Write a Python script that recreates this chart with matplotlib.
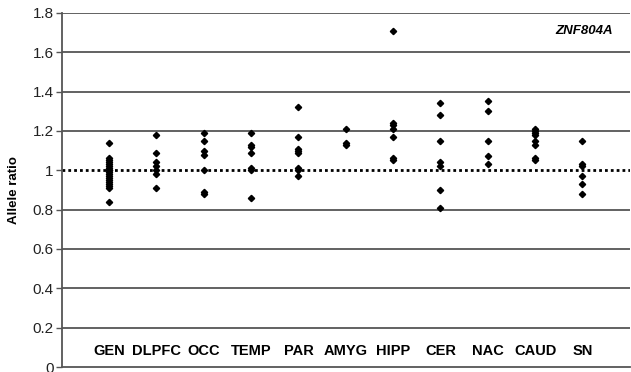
import matplotlib
matplotlib.use('Agg')
from matplotlib import pyplot as plt

plt.rcParams['font.family'] = ['Liberation Sans', 'DejaVu Sans']

regions = ['GEN', 'DLPFC', 'OCC', 'TEMP', 'PAR', 'AMYG', 'HIPP', 'CER', 'NAC', 'CAUD', 'SN']

gen = [1.14, 1.06, 1.05, 1.04, 1.03, 1.02, 1.01, 1.00, 1.00, 0.99, 0.98, 0.97, 0.96, 0.95,
       0.94, 0.93, 0.92, 0.91, 0.84]
dlpfc = [1.18, 1.09, 1.04, 1.02, 1.00, 0.98, 0.91]
occ = [1.19, 1.15, 1.10, 1.08, 1.00, 0.89, 0.88]
temp = [1.19, 1.13, 1.12, 1.09, 1.01, 1.00, 0.86]
par = [1.32, 1.17, 1.11, 1.10, 1.09, 1.01, 1.00, 0.97]
amyg = [1.21, 1.14, 1.13]
hipp = [1.71, 1.24, 1.23, 1.21, 1.17, 1.06, 1.05]
cer = [1.34, 1.28, 1.15, 1.04, 1.02, 0.90, 0.81]
nac = [1.35, 1.30, 1.15, 1.07, 1.03]
caud = [1.21, 1.20, 1.19, 1.18, 1.15, 1.13, 1.06, 1.05]
sn = [1.15, 1.03, 1.02, 0.97, 0.93, 0.88]

ratios = [gen, dlpfc, occ, temp, par, amyg, hipp, cer, nac, caud, sn]
yticks = [0, 0.2, 0.4, 0.6, 0.8, 1, 1.2, 1.4, 1.6, 1.8]
ytick_labels = ['0', '0.2', '0.4', '0.6', '0.8', '1', '1.2', '1.4', '1.6', '1.8']

fig = plt.figure(figsize=(6.31, 3.72), dpi=100)
ax = fig.add_axes([0.098, 0.0134, 0.9, 0.952])

for y in yticks[1:]:
    if y == 1:
        continue
    ax.axhline(y, color='#555555', lw=1.3, zorder=1)
ax.axhline(1, color='black', lw=2, ls=(0, (1, 1.1)), zorder=2)

for i, vals in enumerate(ratios):
    ax.plot([i + 1] * len(vals), vals, ls='none', marker='D', ms=3.2, color='black', zorder=3)
    ax.text(i + 1, 0.08, regions[i], ha='center', va='center', fontsize=10.5, fontweight='bold')

ax.text(11.65, 1.71, 'ZNF804A', ha='right', va='center', fontsize=9.5, fontweight='bold', style='italic')

ax.set_xlim(0, 12)
ax.set_ylim(0, 1.8)
ax.set_xticks([])
ax.set_yticks(yticks)
ax.set_yticklabels(ytick_labels, fontsize=11, color='#222222')
ax.tick_params(axis='y', direction='out', length=4, width=1, color='#555555', pad=2)
ax.set_ylabel('Allele ratio', fontsize=9.5, fontweight='bold', labelpad=9)

for side in ['top', 'right']:
    ax.spines[side].set_visible(False)
ax.spines['left'].set_color('#555555')
ax.spines['left'].set_linewidth(1.3)
ax.spines['bottom'].set_color('#555555')
ax.spines['bottom'].set_linewidth(1.3)

fig.savefig('out.png', dpi=100)
